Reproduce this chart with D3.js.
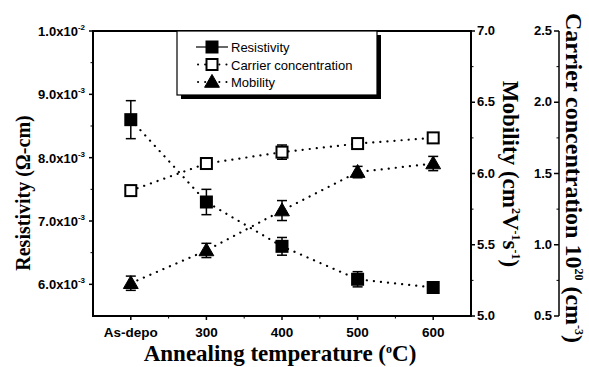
<!DOCTYPE html>
<html>
<head>
<meta charset="utf-8">
<script src="https://cdn.jsdelivr.net/npm/d3@7"></script>
<style>
  body { margin: 0; background: #fff; }
  text { fill: #000; }
</style>
</head>
<body>
<div id="chart"></div>
<script>
// data
var temps = [200, 300, 400, 500, 600];
var tempLabels = ["As-depo", "300", "400", "500", "600"];
var resistivity = [8.6e-3, 7.3e-3, 6.6e-3, 6.08e-3, 5.95e-3];
var resistivityErr = [0.3e-3, 0.2e-3, 0.14e-3, 0.12e-3, 0.07e-3];
var carrier = [1.38, 1.57, 1.65, 1.71, 1.75];
var carrierErr = [0.03, 0.04, 0.05, 0.03, 0.03];
var mobility = [5.23, 5.46, 5.74, 6.01, 6.07];
var mobilityErr = [0.05, 0.05, 0.07, 0.04, 0.05];
var resTicks = [6e-3, 7e-3, 8e-3, 9e-3, 1e-2];
var mobTicks = [5.0, 5.5, 6.0, 6.5, 7.0];
var carTicks = [0.5, 1.0, 1.5, 2.0, 2.5];

var W = 589, H = 367;
var m = {left: 93, right: 471, top: 31, bottom: 316};

var svg = d3.select("#chart").append("svg")
  .attr("width", W).attr("height", H);

var x = d3.scaleLinear().domain([150, 650]).range([m.left, m.right]);
var yRes = d3.scaleLinear().domain([5.5e-3, 1.0e-2]).range([m.bottom, m.top]);
var yMob = d3.scaleLinear().domain([5, 7]).range([m.bottom, m.top]);
var yCar = d3.scaleLinear().domain([0.5, 2.5]).range([m.bottom, m.top]);

var tickFont = "Liberation Sans, Arial, sans-serif";
var titleFont = "Liberation Serif, Times New Roman, serif";

// frame
svg.append("rect")
  .attr("x", m.left).attr("y", m.top)
  .attr("width", m.right - m.left).attr("height", m.bottom - m.top)
  .attr("fill", "none").attr("stroke", "#000").attr("stroke-width", 2);

// bottom axis
var gx = svg.append("g").attr("transform", "translate(0," + m.bottom + ")");
temps.forEach(function(t, i) {
  gx.append("line").attr("x1", x(t)).attr("x2", x(t)).attr("y1", 0).attr("y2", 4)
    .attr("stroke", "#000").attr("stroke-width", 1.5);
  gx.append("text").attr("x", x(t)).attr("y", 21)
    .attr("text-anchor", "middle")
    .style("font", "bold 13.5px " + tickFont)
    .text(tempLabels[i]);
});
[250, 350, 450, 550].forEach(function(t) {
  gx.append("line").attr("x1", x(t)).attr("x2", x(t)).attr("y1", 0).attr("y2", 2.5)
    .attr("stroke", "#000");
});

// left axis (resistivity)
var gl = svg.append("g");
resTicks.forEach(function(v) {
  var e = Math.floor(Math.log10(v) + 1e-9);
  var mant = (v / Math.pow(10, e)).toFixed(1);
  gl.append("line").attr("x1", m.left).attr("x2", m.left - 4)
    .attr("y1", yRes(v)).attr("y2", yRes(v)).attr("stroke", "#000").attr("stroke-width", 1.5);
  var t = gl.append("text").attr("x", m.left - 8).attr("y", yRes(v) + 5)
    .attr("text-anchor", "end")
    .style("font", "bold 13px " + tickFont);
  t.append("tspan").text(mant + "x10");
  t.append("tspan").attr("dy", -6).style("font-size", "8px").text(e);
});
[6.5e-3, 7.5e-3, 8.5e-3, 9.5e-3].forEach(function(v) {
  gl.append("line").attr("x1", m.left).attr("x2", m.left - 2.5)
    .attr("y1", yRes(v)).attr("y2", yRes(v)).attr("stroke", "#000");
});

// right axis (mobility)
var gr = svg.append("g").attr("transform", "translate(" + m.right + ",0)");
mobTicks.forEach(function(v) {
  gr.append("line").attr("x1", 0).attr("x2", 4).attr("y1", yMob(v)).attr("y2", yMob(v))
    .attr("stroke", "#000").attr("stroke-width", 1.5);
  gr.append("text").attr("x", 6).attr("y", yMob(v) + 4)
    .style("font", "bold 13px " + tickFont).text(v.toFixed(1));
});
[5.25, 5.75, 6.25, 6.75].forEach(function(v) {
  gr.append("line").attr("x1", 0).attr("x2", 2.5).attr("y1", yMob(v)).attr("y2", yMob(v))
    .attr("stroke", "#000");
});

// far right axis (carrier concentration)
var cx = 559;
var gc = svg.append("g").attr("transform", "translate(" + cx + ",0)");
gc.append("line").attr("x1", 0).attr("x2", 0).attr("y1", m.top).attr("y2", m.bottom)
  .attr("stroke", "#000").attr("stroke-width", 1.5);
carTicks.forEach(function(v) {
  gc.append("line").attr("x1", 0).attr("x2", -5).attr("y1", yCar(v)).attr("y2", yCar(v))
    .attr("stroke", "#000").attr("stroke-width", 1.5);
  gc.append("text").attr("x", -7).attr("y", yCar(v) + 4).attr("text-anchor", "end")
    .style("font", "bold 13px " + tickFont).text(v.toFixed(1));
});
[0.75, 1.25, 1.75, 2.25].forEach(function(v) {
  gc.append("line").attr("x1", 0).attr("x2", -2.5).attr("y1", yCar(v)).attr("y2", yCar(v))
    .attr("stroke", "#000");
});

// axis titles
svg.append("text")
  .attr("transform", "translate(30,193) rotate(-90)")
  .attr("text-anchor", "middle")
  .style("font", "bold 20px " + titleFont)
  .text("Resistivity (\u03A9-cm)");

var xt = svg.append("text")
  .attr("x", 280).attr("y", 361)
  .attr("text-anchor", "middle")
  .style("font", "bold 23px " + titleFont);
xt.append("tspan").text("Annealing temperature (");
xt.append("tspan").attr("dy", -8).style("font-size", "12px").text("o");
xt.append("tspan").attr("dy", 8).text("C)");

var mt = svg.append("text")
  .attr("transform", "translate(503,174) rotate(90)")
  .attr("text-anchor", "middle")
  .style("font", "bold 23px " + titleFont);
mt.append("tspan").text("Mobility (cm");
mt.append("tspan").attr("dy", -9).style("font-size", "12px").text("2");
mt.append("tspan").attr("dy", 9).text("V");
mt.append("tspan").attr("dy", -9).style("font-size", "12px").text("-1");
mt.append("tspan").attr("dy", 9).text("s");
mt.append("tspan").attr("dy", -9).style("font-size", "12px").text("-1");
mt.append("tspan").attr("dy", 9).text(")");

var ct = svg.append("text")
  .attr("transform", "translate(566,178) rotate(90)")
  .attr("text-anchor", "middle")
  .style("font", "bold 24px " + titleFont);
ct.append("tspan").text("Carrier concentration 10");
ct.append("tspan").attr("dy", -9).style("font-size", "12px").text("20");
ct.append("tspan").attr("dy", 9).text(" (cm");
ct.append("tspan").attr("dy", -9).style("font-size", "12px").text("-3");
ct.append("tspan").attr("dy", 9).text(")");

// series
var series = [
  {name: "Resistivity", vals: resistivity, err: resistivityErr, y: yRes, shape: "square", fill: "#000"},
  {name: "Carrier concentration", vals: carrier, err: carrierErr, y: yCar, shape: "square", fill: "#fff"},
  {name: "Mobility", vals: mobility, err: mobilityErr, y: yMob, shape: "triangle", fill: "#000"}
];

function drawMarker(g, s, px, py) {
  if (s.shape === "square") {
    g.append("rect").attr("x", px - 5.5).attr("y", py - 5.5).attr("width", 11).attr("height", 11)
      .attr("fill", s.fill).attr("stroke", "#000").attr("stroke-width", 2);
  } else {
    g.append("path")
      .attr("d", d3.symbol().type(d3.symbolTriangle).size(95)())
      .attr("transform", "translate(" + px + "," + (py + 1) + ")")
      .attr("fill", s.fill).attr("stroke", "#000").attr("stroke-width", 1);
  }
}

var line = d3.line();
series.forEach(function(s) {
  var pts = temps.map(function(t, i) { return [x(t), s.y(s.vals[i])]; });
  svg.append("path").attr("d", line(pts))
    .attr("fill", "none").attr("stroke", "#000").attr("stroke-width", 2.2)
    .attr("stroke-linecap", "round").attr("stroke-dasharray", "0.1,7");
  var g = svg.append("g");
  temps.forEach(function(t, i) {
    var px = x(t), y1 = s.y(s.vals[i] + s.err[i]), y2 = s.y(s.vals[i] - s.err[i]);
    g.append("line").attr("x1", px).attr("x2", px).attr("y1", y1).attr("y2", y2)
      .attr("stroke", "#000").attr("stroke-width", 1.5);
    [y1, y2].forEach(function(yy) {
      g.append("line").attr("x1", px - 5).attr("x2", px + 5).attr("y1", yy).attr("y2", yy)
        .attr("stroke", "#000").attr("stroke-width", 1.5);
    });
    drawMarker(g, s, px, s.y(s.vals[i]));
  });
});

// legend
var lg = svg.append("g");
var lx = 177, ly = m.top, lw = 200, lh = 64;
lg.append("rect").attr("x", lx + 4).attr("y", ly + 4).attr("width", lw).attr("height", lh).attr("fill", "#000");
lg.append("rect").attr("x", lx).attr("y", ly).attr("width", lw).attr("height", lh)
  .attr("fill", "#fff").attr("stroke", "#000").attr("stroke-width", 1.2);
series.forEach(function(s, i) {
  var yy = ly + 16 + i * 17.5, sx = 212;
  var l = lg.append("line").attr("x1", sx - 16).attr("x2", sx + 16).attr("y1", yy).attr("y2", yy)
    .attr("stroke", "#000").attr("stroke-width", i === 0 ? 1.2 : 2);
  if (i > 0) l.attr("stroke-dasharray", "0.1,7").attr("stroke-linecap", "round").attr("stroke-dashoffset", -2);
  drawMarker(lg, s, sx, yy);
  lg.append("text").attr("x", 231).attr("y", yy + 5)
    .style("font", "13px " + tickFont).text(s.name);
});
</script>
</body>
</html>
